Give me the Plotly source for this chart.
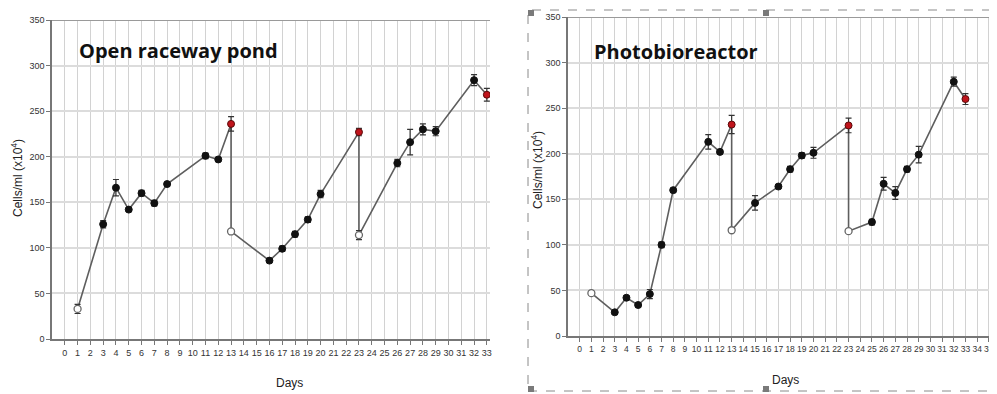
import plotly.graph_objects as go

# ---------------- data ----------------
days_orp = [1, 3, 4, 5, 6, 7, 8, 11, 12, 13, 13, 16, 17, 18, 19, 20, 23, 23, 26, 27, 28, 29, 32, 33]
cells_orp = [33, 126, 166, 142, 160, 149, 170, 201, 197, 236, 118, 86, 99, 115, 131, 159, 227, 114, 193, 216, 230, 228, 284, 268]
err_orp = [5, 4, 9, 2, 3, 3, 2, 3, 2, 8, 2, 2, 3, 3, 3, 4, 4, 5, 4, 14, 6, 5, 6, 7]
kind_orp = ["open", "filled", "filled", "filled", "filled", "filled", "filled", "filled", "filled", "red", "open",
            "filled", "filled", "filled", "filled", "filled", "red", "open", "filled", "filled", "filled", "filled",
            "filled", "red"]

days_pbr = [1, 3, 4, 5, 6, 7, 8, 11, 12, 13, 13, 15, 17, 18, 19, 20, 23, 23, 25, 26, 27, 28, 29, 32, 33]
cells_pbr = [47, 26, 42, 34, 46, 100, 160, 213, 202, 232, 116, 146, 164, 183, 198, 201, 231, 115, 125, 167, 157, 183, 199, 279, 260]
err_pbr = [2, 2, 2, 2, 5, 3, 2, 8, 2, 10, 2, 8, 2, 3, 3, 6, 8, 2, 3, 7, 7, 3, 9, 5, 6]
kind_pbr = ["open", "filled", "filled", "filled", "filled", "filled", "filled", "filled", "filled", "red", "open",
            "filled", "filled", "filled", "filled", "filled", "red", "open", "filled", "filled", "filled", "filled",
            "filled", "filled", "red"]

panel_titles = ["Open raceway pond", "Photobioreactor"]
y_title = "Cells/ml (x10<sup>4</sup>)"
x_title = "Days"
y_ticks = [0, 50, 100, 150, 200, 250, 300, 350]
x_ticks_orp = list(range(0, 34))
x_ticks_pbr = list(range(0, 36))

# the page body has an 8px margin; size the figure so it fills the 997x394 window exactly
OFF = 8
W, H = 997 - OFF, 394 - OFF

def px_x(p):
    return (p - OFF) / W

def px_y(p):
    return (H - (p - OFF)) / H

fig = go.Figure()

marker_styles = {
    "filled": dict(color="#111111", size=7, symbol="circle", line=dict(color="#111111", width=1)),
    "open": dict(color="white", size=7, symbol="circle", line=dict(color="#666666", width=1.3)),
    "red": dict(color="#c0141c", size=7, symbol="circle", line=dict(color="#5a0a0a", width=1)),
}

def add_panel(days, vals, errs, kinds, xa, ya):
    fig.add_trace(go.Scatter(x=days, y=vals, mode="lines", line=dict(color="#5e5e5e", width=1.6),
                             xaxis=xa, yaxis=ya, showlegend=False, hoverinfo="skip"))
    for k in ["open", "filled", "red"]:
        idx = [i for i, kk in enumerate(kinds) if kk == k]
        fig.add_trace(go.Scatter(
            x=[days[i] for i in idx], y=[vals[i] for i in idx], mode="markers",
            marker=marker_styles[k],
            error_y=dict(type="data", array=[errs[i] for i in idx], visible=True,
                         color="#333333", thickness=1.2, width=3),
            xaxis=xa, yaxis=ya, showlegend=False))

add_panel(days_orp, cells_orp, err_orp, kind_orp, "x", "y")
add_panel(days_pbr, cells_pbr, err_pbr, kind_pbr, "x2", "y2")

def tickfont(sz):
    return dict(family="Liberation Sans, Arial, sans-serif", size=sz, color="#333333")

common_x = dict(showgrid=True, gridcolor="#d2d2d2", gridwidth=1.3, automargin=False, tickangle=0,
                ticks="outside", ticklen=4, tickcolor="#777777",
                showline=True, linecolor="#777777", linewidth=1.5, zeroline=False, fixedrange=True,
                ticklabeloverflow="allow")
common_y = dict(range=[0, 350], tickvals=y_ticks, showgrid=True, gridcolor="#dcdcdc", gridwidth=1.6,
                automargin=False, tickfont=tickfont(9),
                ticks="outside", ticklen=4, tickcolor="#777777",
                showline=True, linecolor="#777777", linewidth=1.5, zeroline=False, fixedrange=True)

x_end_orp = -1 + (490 - 52) / 12.79
x_end_pbr = -1 + (997 - 568) / 11.69

fig.update_layout(
    width=W, height=H, margin=dict(l=0, r=0, t=0, b=0, autoexpand=False),
    paper_bgcolor="white", plot_bgcolor="white",
    xaxis=dict(domain=[px_x(52), px_x(490)], range=[-1, x_end_orp], tickvals=x_ticks_orp,
               tickfont=tickfont(9), anchor="y", **common_x),
    yaxis=dict(domain=[px_y(339), px_y(20)], anchor="x", **common_y),
    xaxis2=dict(domain=[px_x(568), 1.0], range=[-1, x_end_pbr], tickvals=x_ticks_pbr,
                tickfont=tickfont(8.5), anchor="y2", **common_x),
    yaxis2=dict(domain=[px_y(336), px_y(17)], anchor="x2", **common_y),
)

# top border lines at 350
fig.add_shape(type="line", xref="x", yref="y", x0=-1, x1=x_end_orp, y0=350, y1=350,
              line=dict(color="#9a9a9a", width=2))
fig.add_shape(type="line", xref="x2", yref="y2", x0=-1, x1=x_end_pbr, y0=350, y1=350,
              line=dict(color="#9a9a9a", width=2))

# dashed selection frame around the right panel, with handles
fig.add_shape(type="rect", xref="paper", yref="paper", x0=px_x(528), x1=px_x(1010), y0=px_y(391), y1=px_y(10),
              line=dict(color="#8a8a8a", width=1, dash="dash"), fillcolor="rgba(0,0,0,0)", layer="above")
for hx, hy in [(531, 13), (766, 13), (531, 389), (766, 389)]:
    fig.add_shape(type="rect", xref="paper", yref="paper",
                  x0=px_x(hx - 3), x1=px_x(hx + 3), y0=px_y(hy + 3), y1=px_y(hy - 3),
                  line=dict(width=0), fillcolor="#7a7a7a", layer="above")

title_font = dict(family="Open Sans, sans-serif", size=20, color="#111111")
fig.add_annotation(text="<b>" + panel_titles[0] + "</b>", xref="paper", yref="paper", x=px_x(77), y=px_y(51),
                   xanchor="left", yanchor="middle", showarrow=False, font=title_font)
fig.add_annotation(text="<b>" + panel_titles[1] + "</b>", xref="paper", yref="paper", x=px_x(592), y=px_y(52),
                   xanchor="left", yanchor="middle", showarrow=False, font=title_font)

lab_font = dict(family="Liberation Sans, Arial, sans-serif", size=12, color="#222222")
fig.add_annotation(text=y_title, xref="paper", yref="paper", x=px_x(17), y=px_y(178), textangle=-90,
                   xanchor="center", yanchor="middle", showarrow=False, font=lab_font)
fig.add_annotation(text=y_title, xref="paper", yref="paper", x=px_x(537), y=px_y(170), textangle=-90,
                   xanchor="center", yanchor="middle", showarrow=False, font=lab_font)
fig.add_annotation(text=x_title, xref="paper", yref="paper", x=px_x(289), y=px_y(383),
                   xanchor="center", yanchor="middle", showarrow=False, font=lab_font)
fig.add_annotation(text=x_title, xref="paper", yref="paper", x=px_x(785), y=px_y(380),
                   xanchor="center", yanchor="middle", showarrow=False, font=lab_font)

fig.write_html("out.html")
